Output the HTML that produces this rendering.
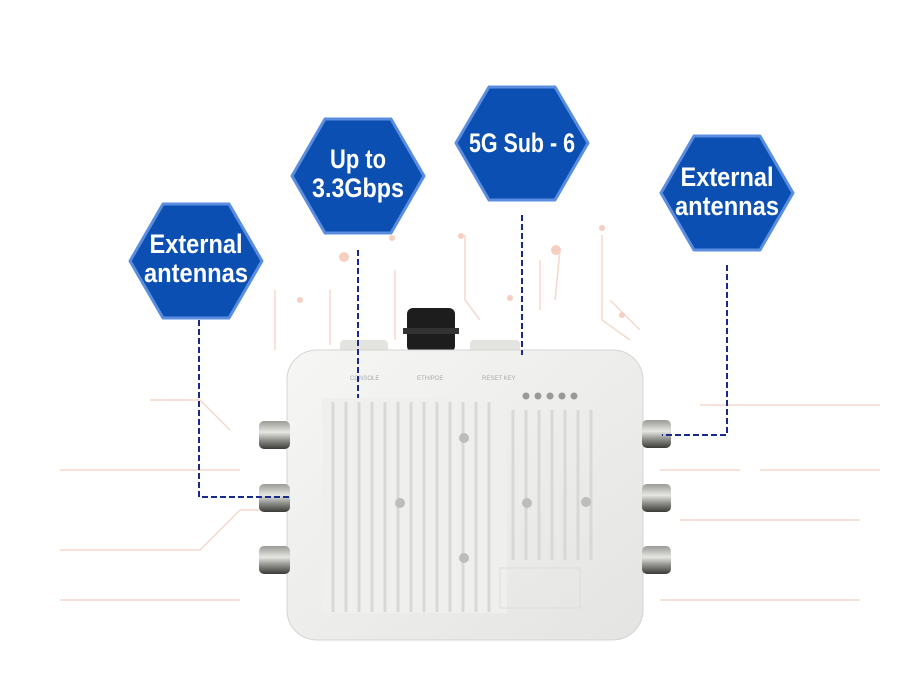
<!DOCTYPE html>
<html><head><style>body{margin:0;background:#fff;}svg{display:block}</style></head>
<body>
<svg width="900" height="677" viewBox="0 0 900 677" xmlns="http://www.w3.org/2000/svg" font-family="'Liberation Sans',sans-serif">
<defs>
<linearGradient id="cn" x1="0" y1="0" x2="0" y2="1"><stop offset="0" stop-color="#9a9a96"/><stop offset=".4" stop-color="#e6e6e2"/><stop offset=".7" stop-color="#8a8a86"/><stop offset="1" stop-color="#3a3a38"/></linearGradient>
<linearGradient id="bd" x1="0" y1="0" x2="1" y2="1"><stop offset="0" stop-color="#f6f6f4"/><stop offset="1" stop-color="#e4e4e2"/></linearGradient>
</defs>
<g stroke="#f6d9cc" stroke-width="1.5" fill="none">
<path d="M60 470 H240"/><path d="M60 550 H200 L240 510 H260"/><path d="M230 430 L200 400 H150"/>
<path d="M700 405 H880"/><path d="M760 470 H880"/><path d="M680 520 H860"/><path d="M660 470 H740"/>
<path d="M275 290 V350"/><path d="M330 290 V345"/><path d="M395 270 V340"/><path d="M465 235 V300 L480 320"/><path d="M540 260 V310"/><path d="M560 250 L555 300"/><path d="M602 235 V320 L630 340"/><path d="M610 300 L640 330"/>
<path d="M60 600 H240"/><path d="M660 600 H860"/>
</g>
<g fill="#f6cfc2"><circle cx="344" cy="257" r="5"/><circle cx="300" cy="300" r="3"/><circle cx="392" cy="238" r="3"/><circle cx="510" cy="298" r="3"/><circle cx="556" cy="250" r="5"/><circle cx="602" cy="228" r="3"/><circle cx="622" cy="315" r="3"/><circle cx="461" cy="236" r="3"/></g>
<g fill="#0a4fb1" stroke="#5b8de0" stroke-width="3" stroke-linejoin="round">
<polygon points="163,204 229,204 262,261 229,318 163,318 130,261"/>
<polygon points="325,119 391,119 424,176 391,233 325,233 292,176"/>
<polygon points="489,87 555,87 588,143 555,200 489,200 456,143"/>
<polygon points="694,136 760,136 793,193 760,250 694,250 661,193"/>
</g>
<g fill="#fff" font-weight="bold" font-size="27" text-anchor="middle" lengthAdjust="spacingAndGlyphs">
<text x="196" y="253" textLength="93" lengthAdjust="spacingAndGlyphs">External</text><text x="196" y="282" textLength="104" lengthAdjust="spacingAndGlyphs">antennas</text>
<text x="358" y="168" textLength="56" lengthAdjust="spacingAndGlyphs">Up to</text><text x="358" y="197" textLength="92" lengthAdjust="spacingAndGlyphs">3.3Gbps</text>
<text x="522" y="152" textLength="106" lengthAdjust="spacingAndGlyphs">5G Sub - 6</text>
<text x="727" y="186" textLength="93" lengthAdjust="spacingAndGlyphs">External</text><text x="727" y="215" textLength="104" lengthAdjust="spacingAndGlyphs">antennas</text>
</g>
<rect x="407" y="308" width="48" height="44" rx="6" fill="#1d1d1d"/>
<rect x="403" y="328" width="56" height="6" fill="#333"/>
<rect x="340" y="340" width="48" height="14" rx="4" fill="#e3e3e0"/>
<rect x="470" y="340" width="50" height="14" rx="4" fill="#e3e3e0"/>
<rect x="287" y="350" width="356" height="290" rx="30" fill="url(#bd)" stroke="#d4d4d2"/>
<rect x="322" y="398" width="185" height="215" fill="#efefed"/>
<g stroke="#d8d8d6" stroke-width="3">
<path d="M333 402V612M346 402V612M359 402V612M372 402V612M385 402V612M398 402V612M411 402V612M424 402V612M437 402V612M450 402V612M463 402V612M476 402V612M489 402V612"/>
<path d="M513 410V560M526 410V560M539 410V560M552 410V560M565 410V560M578 410V560M591 410V560"/>
</g>
<rect x="500" y="568" width="80" height="40" fill="none" stroke="#dcdcda"/>
<g fill="#bdbdbb"><circle cx="464" cy="438" r="5"/><circle cx="400" cy="503" r="5"/><circle cx="527" cy="503" r="5"/><circle cx="586" cy="502" r="5"/><circle cx="464" cy="558" r="5"/></g>
<g fill="#999"><circle cx="526" cy="396" r="3.5"/><circle cx="538" cy="396" r="3.5"/><circle cx="550" cy="396" r="3.5"/><circle cx="562" cy="396" r="3.5"/><circle cx="574" cy="396" r="3.5"/></g>
<g fill="#aaa" font-size="6"><text x="350" y="380">CONSOLE</text><text x="417" y="380">ETH/POE</text><text x="482" y="380">RESET KEY</text></g>
<g fill="url(#cn)">
<rect x="259" y="421" width="31" height="28" rx="5"/><rect x="259" y="484" width="31" height="28" rx="5"/><rect x="259" y="546" width="31" height="28" rx="5"/>
<rect x="642" y="420" width="29" height="28" rx="5"/><rect x="642" y="484" width="29" height="28" rx="5"/><rect x="642" y="546" width="29" height="28" rx="5"/>
</g>
<g stroke="#1a2a8c" stroke-width="2" stroke-dasharray="6,3" fill="none">
<path d="M199 320 V497 H292"/><path d="M358 250 V398"/><path d="M522 215 V355"/><path d="M727 265 V435 H662"/>
</g>
</svg>
</body></html>
